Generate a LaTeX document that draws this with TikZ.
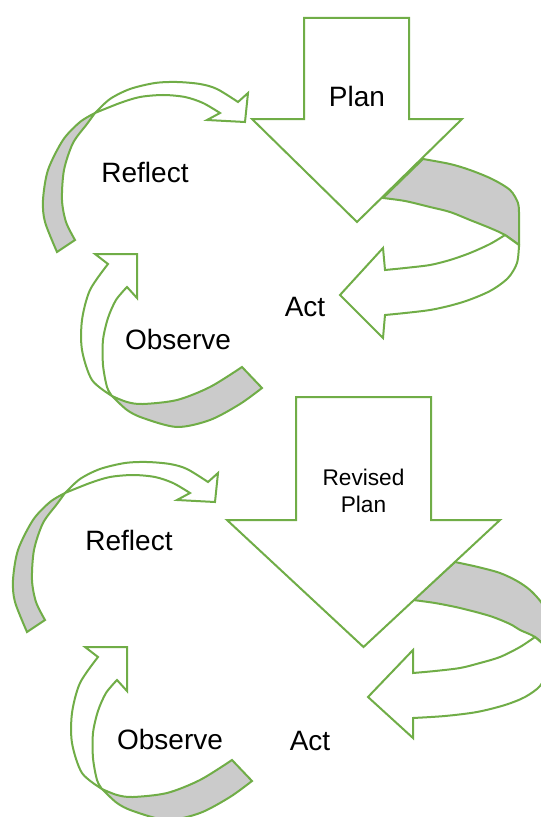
\documentclass[tikz,border=0pt]{standalone}
\usepackage{fontspec}
\setmainfont{Liberation Sans}
\definecolor{lgreen}{HTML}{70AD47}
\definecolor{band}{HTML}{CBCBCB}
\newcommand\myReflectArrow{%
  \filldraw[back] plot[smooth] coordinates {(57,252) (45,222) (43,200) (48,170) (63,140) (80,122) (95,113)}
    -- plot[smooth] coordinates {(95,113) (87,124) (73,143) (64,170) (62,200) (66,222) (75,240)} -- cycle;
  \filldraw[shp] plot[smooth] coordinates {(95,113) (110,99) (130,89) (155,83) (177,82) (200,84) (217,89) (238,102)}
    -- (248,93) -- (245,122) -- (207,120) -- (220,113)
    -- plot[smooth] coordinates {(220,113) (203,103) (185,97) (163,95) (140,97) (120,103) (95,113)} -- cycle;
}
\newcommand\myObserveArrow{%
  \filldraw[back] plot[smooth] coordinates {(112,396) (127,402) (143,404) (177,400) (210,387) (242,367)}
    -- (262,388)
    -- plot[smooth] coordinates {(262,388) (240,404) (210,420) (177,427) (143,418) (127,410) (112,396)} -- cycle;
  \filldraw[shp] plot[smooth] coordinates {(112,396) (107,387) (103,365) (103,340) (108,318) (116,300) (127,287)}
    -- (137,298) -- (137,254) -- (95,254) -- (108,264)
    -- plot[smooth] coordinates {(108,264) (90,290) (82,320) (82,350) (92,380) (112,396)} -- cycle;
}
\begin{document}
\begin{tikzpicture}[x=0.75pt,y=-0.75pt,
  shp/.style={draw=lgreen, line width=1.5pt, fill=white, line join=miter},
  back/.style={draw=lgreen, line width=1.5pt, fill=band, line join=miter},
  lbl/.style={anchor=base, inner sep=0pt, text=black, font=\fontsize{21}{25}\selectfont},
  sml/.style={align=center, inner sep=0pt, text=black, font=\fontsize{17}{20.25}\selectfont}]
\useasboundingbox (0,0) rectangle (541,817);
\clip (0,0) rectangle (541,817);

% ---------------- top cycle ----------------
% Plan -> Act band (back, gray)
\filldraw[back] plot[smooth] coordinates {(423,159) (450,164) (470,170) (492,179) (510,190) (518,203) (519,215)}
  -- (519,245)
  -- plot[smooth] coordinates {(519,245) (505,235) (490,228) (470,220) (450,212) (430,207) (405,201) (383,198)} -- cycle;
% Plan arrow
\filldraw[shp] (304,18) -- (409,18) -- (409,119) -- (462,119) -- (357,222) -- (252,119) -- (304,119) -- cycle;
% Act arrow (front, white)
\filldraw[shp] plot[smooth] coordinates {(505,235) (490,244) (470,253) (450,260) (430,265) (405,268) (385,270)}
  -- (383,248) -- (340,295) -- (383,338) -- (385,315)
  -- plot[smooth] coordinates {(385,315) (430,310) (463,302) (490,291) (508,278) (517,263) (519,245)} -- cycle;
\myReflectArrow
\myObserveArrow

\node[lbl] (plan1) at (357,106) {Plan};
\node[lbl] (act1) at (305,316) {Act};
\node[lbl] (reflect1) at (145,182) {Reflect};
\node[lbl] (observe1) at (178,349) {Observe};

% ---------------- bottom cycle ----------------
\filldraw[back] plot[smooth] coordinates {(455,562) (478,567) (500,573) (517,581) (530,590) (541,602) (548,615) (550,630)}
  -- (550,650)
  -- plot[smooth] coordinates {(550,650) (535,637) (520,630) (510,624) (490,616) (460,608) (435,603) (413,600)} -- cycle;
\filldraw[shp] (296,397) -- (431,397) -- (431,520) -- (500,520) -- (363.5,647) -- (227,520) -- (296,520) -- cycle;
\filldraw[shp] plot[smooth] coordinates {(535,637) (520,647) (500,657) (480,663) (460,668) (435,671) (413,673)}
  -- (413,650) -- (368,697) -- (413,738) -- (413,718)
  -- plot[smooth] coordinates {(413,718) (445,716) (477,712) (505,705) (525,697) (540,686) (548,670) (550,650)} -- cycle;
\begin{scope}[shift={(-30,380)}]
  \myReflectArrow
\end{scope}
\begin{scope}[shift={(-10,393)}]
  \myObserveArrow
\end{scope}

\node[sml, anchor=base] (plan2) at (363.5,512) {Revised\\Plan};
\node[lbl] (act2) at (310,750) {Act};
\node[lbl] (reflect2) at (129,550) {Reflect};
\node[lbl] (observe2) at (170,749) {Observe};
\end{tikzpicture}
\end{document}
